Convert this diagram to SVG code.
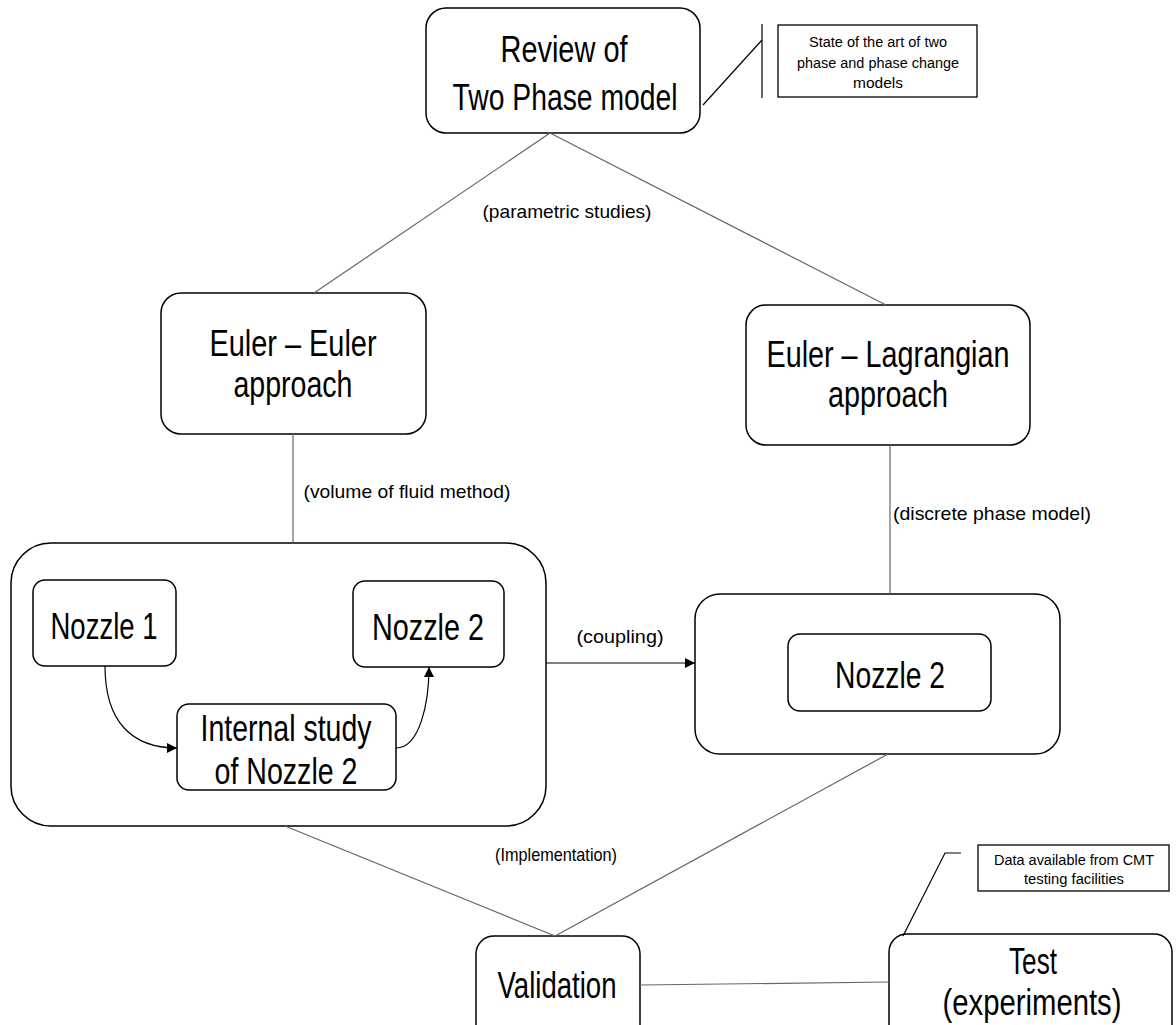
<svg xmlns="http://www.w3.org/2000/svg" width="1176" height="1025" viewBox="0 0 1176 1025">
<style>
.box{fill:#fff;stroke:#000;stroke-width:1.5}
.note{fill:#fff;stroke:#000;stroke-width:1.3}
.t{font-family:"Liberation Sans",Arial,sans-serif;fill:#000;text-anchor:middle}
.big{font-size:37px}
.mid{font-size:19px}
.sm{font-size:14px}
.gl{stroke:#666;stroke-width:1.2;fill:none}
.bl{stroke:#000;stroke-width:1.2;fill:none}
</style>
<defs>
<marker id="arr" viewBox="0 0 10 10" refX="10" refY="5" markerWidth="11" markerHeight="10" markerUnits="userSpaceOnUse" orient="auto">
<path d="M0,0 L10,5 L0,10 z" fill="#000"/>
</marker>
</defs>
<g id="review">
<rect class="box" x="426" y="8" width="274" height="125" rx="20"/>
<text class="t big" x="564" y="62" textLength="127" lengthAdjust="spacingAndGlyphs">Review of</text>
<text class="t big" x="565" y="110" textLength="225" lengthAdjust="spacingAndGlyphs">Two Phase model</text>
</g>
<g id="note-state">
<rect class="note" x="778" y="25" width="199" height="72"/>
<text class="t sm" x="878" y="47" textLength="138" lengthAdjust="spacingAndGlyphs">State of the art of two</text>
<text class="t sm" x="878" y="68" textLength="162" lengthAdjust="spacingAndGlyphs">phase and phase change</text>
<text class="t sm" x="878" y="88" textLength="50" lengthAdjust="spacingAndGlyphs">models</text>
</g>
<g id="euler-euler">
<rect class="box" x="161" y="293" width="265" height="141" rx="20"/>
<text class="t big" x="293" y="356" textLength="167" lengthAdjust="spacingAndGlyphs">Euler – Euler</text>
<text class="t big" x="293" y="397" textLength="119" lengthAdjust="spacingAndGlyphs">approach</text>
</g>
<g id="euler-lagrangian">
<rect class="box" x="746" y="305" width="284" height="140" rx="20"/>
<text class="t big" x="888" y="367" textLength="243" lengthAdjust="spacingAndGlyphs">Euler – Lagrangian</text>
<text class="t big" x="888" y="407" textLength="120" lengthAdjust="spacingAndGlyphs">approach</text>
</g>
<g id="group-left">
<rect class="box" x="11" y="543" width="535" height="283" rx="40"/>
</g>
<g id="nozzle1">
<rect class="box" x="33" y="580" width="143" height="86" rx="12"/>
<text class="t big" x="104" y="639" textLength="107" lengthAdjust="spacingAndGlyphs">Nozzle 1</text>
</g>
<g id="nozzle2-left">
<rect class="box" x="353" y="581" width="151" height="86" rx="12"/>
<text class="t big" x="428" y="640" textLength="112" lengthAdjust="spacingAndGlyphs">Nozzle 2</text>
</g>
<g id="internal-study">
<rect class="box" x="177" y="704" width="219" height="86" rx="12"/>
<text class="t big" x="286" y="741" textLength="171" lengthAdjust="spacingAndGlyphs">Internal study</text>
<text class="t big" x="286" y="784" textLength="143" lengthAdjust="spacingAndGlyphs">of Nozzle 2</text>
</g>
<g id="group-right">
<rect class="box" x="695" y="594" width="365" height="160" rx="25"/>
</g>
<g id="nozzle2-right">
<rect class="box" x="788" y="634" width="203" height="77" rx="12"/>
<text class="t big" x="890" y="688" textLength="110" lengthAdjust="spacingAndGlyphs">Nozzle 2</text>
</g>
<g id="validation">
<rect class="box" x="476" y="936" width="164" height="110" rx="18"/>
<text class="t big" x="557" y="998" textLength="119" lengthAdjust="spacingAndGlyphs">Validation</text>
</g>
<g id="test">
<rect class="box" x="889" y="934" width="283" height="110" rx="18"/>
<text class="t big" x="1033" y="974" textLength="48" lengthAdjust="spacingAndGlyphs">Test</text>
<text class="t big" x="1032" y="1015" textLength="179" lengthAdjust="spacingAndGlyphs">(experiments)</text>
</g>
<g id="note-data">
<rect class="note" x="978" y="845" width="191" height="46"/>
<text class="t sm" x="1074" y="865" textLength="160" lengthAdjust="spacingAndGlyphs">Data available from CMT</text>
<text class="t sm" x="1074" y="884" textLength="100" lengthAdjust="spacingAndGlyphs">testing facilities</text>
</g>
<g id="connectors">
<line class="gl" x1="550" y1="133" x2="314" y2="293"/>
<line class="gl" x1="550" y1="133" x2="886" y2="305"/>
<line class="gl" x1="293" y1="434" x2="293" y2="543"/>
<line class="gl" x1="890" y1="445" x2="890" y2="594"/>
<line class="bl" x1="546" y1="663" x2="695" y2="663" marker-end="url(#arr)"/>
<path class="bl" d="M105,666 C105,722 132,748 177,748" marker-end="url(#arr)"/>
<path class="bl" d="M396,748 C420,748 429,702 429,667" marker-end="url(#arr)"/>
<line class="gl" x1="285" y1="826" x2="555" y2="936"/>
<line class="gl" x1="888" y1="754" x2="555" y2="936"/>
<line class="gl" x1="640" y1="985" x2="889" y2="982"/>
<line class="bl" x1="703" y1="105" x2="762" y2="40"/>
<line class="bl" x1="762" y1="24" x2="762" y2="98"/>
<polyline class="bl" points="903,936 945,853 961,853"/>
<text class="t mid" x="567" y="218" textLength="169" lengthAdjust="spacingAndGlyphs">(parametric studies)</text>
<text class="t mid" x="407" y="498" textLength="207" lengthAdjust="spacingAndGlyphs">(volume of fluid method)</text>
<text class="t mid" x="992" y="520" textLength="198" lengthAdjust="spacingAndGlyphs">(discrete phase model)</text>
<text class="t mid" x="620" y="643" textLength="87" lengthAdjust="spacingAndGlyphs">(coupling)</text>
<text class="t mid" x="556" y="861" textLength="122" lengthAdjust="spacingAndGlyphs">(Implementation)</text>
</g>
</svg>
